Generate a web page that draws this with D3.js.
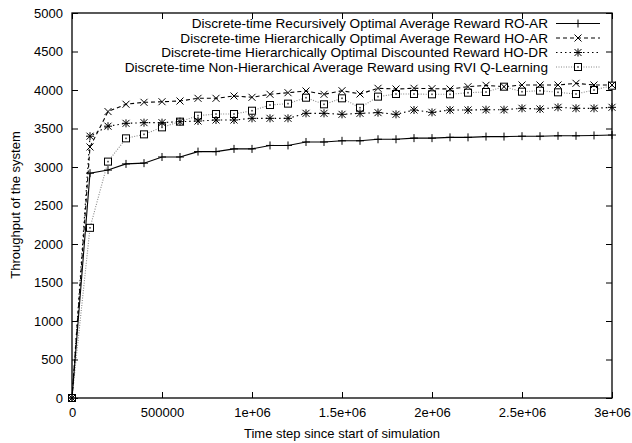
<!DOCTYPE html>
<html>
<head>
<meta charset="utf-8">
<script src="https://cdn.jsdelivr.net/npm/d3@7"></script>
<style>
  body { margin: 0; background: white; }
  text { font-family: "Liberation Sans", Arial, sans-serif; }
</style>
</head>
<body>
<svg id="chart" width="632" height="443"></svg>
<script>
  // time steps (x values)
  let steps = [0, 100000, 200000, 300000, 400000, 500000, 600000, 700000, 800000, 900000,
    1000000, 1100000, 1200000, 1300000, 1400000, 1500000, 1600000, 1700000, 1800000, 1900000,
    2000000, 2100000, 2200000, 2300000, 2400000, 2500000, 2600000, 2700000, 2800000, 2900000, 3000000];

  let roAR = [0, 2920, 2960, 3040, 3050, 3130, 3130, 3200, 3200, 3235, 3235, 3280, 3280, 3325, 3325, 3340,
    3340, 3360, 3360, 3375, 3375, 3385, 3385, 3395, 3395, 3400, 3400, 3405, 3405, 3410, 3415];
  let hoAR = [0, 3260, 3720, 3815, 3840, 3848, 3857, 3892, 3892, 3922, 3905, 3944, 3965, 3987, 3944, 3991,
    3948, 4022, 4013, 4022, 4018, 4013, 4043, 4061, 4043, 4065, 4065, 4065, 4087, 4065, 4065];
  let hoDR = [0, 3400, 3530, 3567, 3576, 3576, 3589, 3597, 3610, 3610, 3632, 3632, 3632, 3697, 3697, 3684,
    3697, 3706, 3684, 3740, 3710, 3740, 3740, 3744, 3744, 3762, 3753, 3775, 3762, 3762, 3775];
  let rviQ = [0, 2210, 3070, 3372, 3424, 3515, 3589, 3667, 3688, 3688, 3731, 3805, 3823, 3900, 3814, 3892,
    3770, 3914, 3948, 3948, 3944, 3944, 3965, 3974, 4043, 3978, 3991, 3970, 3948, 4000, 4056];

  let seriesNames = [
    "Discrete-time Recursively Optimal Average Reward RO-AR",
    "Discrete-time Hierarchically Optimal Average Reward HO-AR",
    "Discrete-time Hierarchically Optimal Discounted Reward HO-DR",
    "Discrete-time Non-Hierarchical Average Reward using RVI Q-Learning"
  ];
  let xTicks = [0, 500000, 1000000, 1500000, 2000000, 2500000, 3000000];
  let xTickLabels = ["0", "500000", "1e+06", "1.5e+06", "2e+06", "2.5e+06", "3e+06"];
  let yTicks = [0, 500, 1000, 1500, 2000, 2500, 3000, 3500, 4000, 4500, 5000];

  let svg = d3.select("#chart");
  let margin = {top: 13, bottom: 45, left: 72, right: 20};
  let width = 632, height = 443;

  let x = d3.scaleLinear().domain([0, 3000000]).range([margin.left, width - margin.right]);
  let y = d3.scaleLinear().domain([0, 5000]).range([height - margin.bottom, margin.top]);

  let styles = [
    {data: roAR, dash: null, color: "#000", marker: "plus"},
    {data: hoAR, dash: "4,3", color: "#000", marker: "cross"},
    {data: hoDR, dash: "1.5,3", color: "#000", marker: "star"},
    {data: rviQ, dash: "1,1.5", color: "#888", marker: "box"}
  ];

  function drawMarker(g, type, px, py) {
    if (type == "plus") {
      g.append("path").attr("d", "M" + (px - 4) + "," + py + "h8M" + px + "," + (py - 4) + "v8")
        .attr("stroke", "#000").attr("stroke-width", 1);
    } else if (type == "cross") {
      g.append("path").attr("d", "M" + (px - 3.5) + "," + (py - 3.5) + "l7,7M" + (px - 3.5) + "," + (py + 3.5) + "l7,-7")
        .attr("stroke", "#000").attr("stroke-width", 1);
    } else if (type == "star") {
      g.append("path").attr("d", "M" + (px - 3.5) + "," + (py - 3.5) + "l7,7M" + (px - 3.5) + "," + (py + 3.5) + "l7,-7" +
        "M" + (px - 4) + "," + py + "h8M" + px + "," + (py - 4) + "v8")
        .attr("stroke", "#000").attr("stroke-width", 1);
    } else {
      g.append("rect").attr("x", px - 3.5).attr("y", py - 3.5).attr("width", 7).attr("height", 7)
        .attr("fill", "white").attr("stroke", "#000").attr("stroke-width", 1);
      g.append("rect").attr("x", px - 0.8).attr("y", py - 0.8).attr("width", 1.6).attr("height", 1.6).attr("fill", "#444");
    }
  }

  // axes with inside ticks, mirrored
  let bottomAxis = d3.axisBottom(x).tickValues(xTicks).tickSize(-6).tickPadding(10)
    .tickFormat(function(d, i) { return xTickLabels[i]; });
  let leftAxis = d3.axisLeft(y).tickValues(yTicks).tickSize(-6).tickPadding(9).tickFormat(d3.format("d"));
  let topAxis = d3.axisTop(x).tickValues(xTicks).tickSize(-6).tickFormat("");
  let rightAxis = d3.axisRight(y).tickValues(yTicks).tickSize(-6).tickFormat("");

  let axes = [
    svg.append("g").attr("transform", "translate(0," + y(0) + ")").call(bottomAxis),
    svg.append("g").attr("transform", "translate(" + x(0) + ",0)").call(leftAxis),
    svg.append("g").attr("transform", "translate(0," + y(5000) + ")").call(topAxis),
    svg.append("g").attr("transform", "translate(" + x(3000000) + ",0)").call(rightAxis)
  ];
  axes.forEach(function(a) {
    a.select(".domain").remove();
    a.selectAll("text").attr("font-size", "13px").attr("fill", "#000")
      .style("font-family", "'Liberation Sans', Arial, sans-serif");
    a.selectAll("line").attr("stroke", "#000");
  });

  svg.append("rect")
    .attr("x", x(0)).attr("y", y(5000))
    .attr("width", x(3000000) - x(0)).attr("height", y(0) - y(5000))
    .attr("fill", "none").attr("stroke", "#000").attr("stroke-width", 1.3);

  // series
  let line = d3.line().x(function(d, i) { return x(steps[i]); }).y(function(d) { return y(d); });
  styles.slice().reverse().forEach(function(s) {
    svg.append("path").datum(s.data)
      .attr("d", line)
      .attr("fill", "none")
      .attr("stroke", s.color)
      .attr("stroke-width", 1.1)
      .attr("stroke-dasharray", s.dash);
  });
  styles.slice().reverse().forEach(function(s) {
    let g = svg.append("g");
    s.data.forEach(function(v, i) { drawMarker(g, s.marker, x(steps[i]), y(v)); });
  });

  // legend
  let legend = svg.append("g");
  seriesNames.forEach(function(name, i) {
    let ly = 23.5 + i * 14.5;
    legend.append("text").attr("x", 548).attr("y", ly).attr("dy", "0.35em")
      .attr("text-anchor", "end").attr("font-size", "13.6px").text(name);
    legend.append("line").attr("x1", 556).attr("x2", 600).attr("y1", ly).attr("y2", ly)
      .attr("stroke", styles[i].color).attr("stroke-width", 1).attr("stroke-dasharray", styles[i].dash);
    drawMarker(legend, styles[i].marker, 578, ly);
  });

  // axis titles
  svg.append("text").attr("x", (x(0) + x(3000000)) / 2).attr("y", 433).attr("dy", "0.35em")
    .attr("text-anchor", "middle").attr("font-size", "13px").text("Time step since start of simulation");
  svg.append("text").attr("transform", "translate(15," + 205 + ") rotate(-90)").attr("dy", "0.35em")
    .attr("text-anchor", "middle").attr("font-size", "13px").text("Throughput of the system");
</script>
</body>
</html>
